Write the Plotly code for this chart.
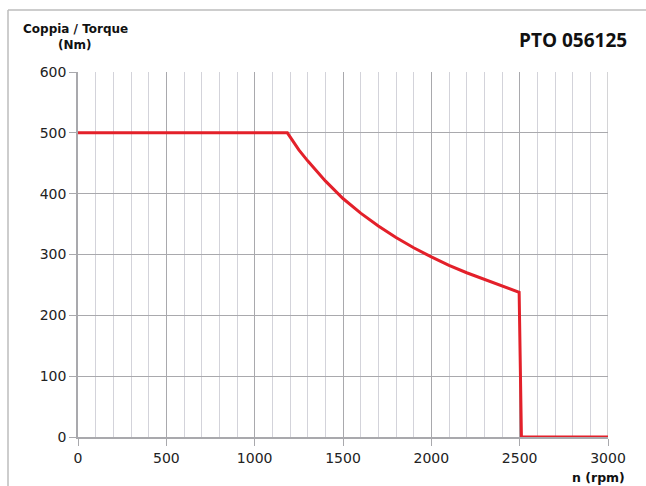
import plotly.graph_objects as go

# Data
rpm = [0, 1185, 1250, 1300, 1400, 1500, 1600, 1700, 1800, 1900, 2000,
       2100, 2200, 2300, 2400, 2497, 2510, 3000]
torque = [500, 500, 472, 454, 421, 392, 368, 347, 328, 311, 296,
          282, 270, 259, 248, 238, 0, 0]

x_ticks = [0, 500, 1000, 1500, 2000, 2500, 3000]
y_ticks = [0, 100, 200, 300, 400, 500, 600]

W, H = 646, 486
L, R, T, B = 78, 38, 72, 49
pw, ph = W - L - R, H - T - B


def px2paper_x(px):
    return (px - L) / pw


def py2paper_y(py):
    return (H - B - py) / ph


fig = go.Figure()
fig.add_trace(go.Scatter(
    x=rpm, y=torque, mode="lines",
    line=dict(color="#e3202a", width=3),
    hoverinfo="skip", showlegend=False, cliponaxis=False,
))

tick_font = dict(family="DejaVu Sans", size=14, color="#222222")

fig.update_layout(
    width=W, height=H,
    margin=dict(l=L, r=R, t=T, b=B, pad=0),
    paper_bgcolor="white", plot_bgcolor="white",
    showlegend=False,
    xaxis=dict(
        range=[0, 3000], tickvals=x_ticks, ticktext=[str(v) for v in x_ticks],
        showgrid=True, gridcolor="#a9a9ad", gridwidth=1,
        minor=dict(dtick=100, tick0=0, showgrid=True, gridcolor="#d3d3da", gridwidth=1, ticks=""),
        showline=True, linecolor="#a9a9ad", linewidth=1.5,
        ticks="outside", ticklen=7, tickcolor="#a9a9ad", tickwidth=1,
        tickfont=tick_font, zeroline=False, fixedrange=True,
    ),
    yaxis=dict(
        range=[0, 600], tickvals=y_ticks, ticktext=[str(v) for v in y_ticks],
        showgrid=True, gridcolor="#a9a9ad", gridwidth=1,
        showline=True, linecolor="#a9a9ad", linewidth=1.5,
        ticks="outside", ticklen=7, tickcolor="#a9a9ad", tickwidth=1,
        tickfont=tick_font, zeroline=False, fixedrange=True,
    ),
    shapes=[
        dict(type="line", xref="paper", yref="paper",
             x0=px2paper_x(8), x1=px2paper_x(660), y0=py2paper_y(10), y1=py2paper_y(10),
             line=dict(color="#bdbdbd", width=1.5)),
        dict(type="line", xref="paper", yref="paper",
             x0=px2paper_x(8), x1=px2paper_x(8), y0=py2paper_y(10), y1=py2paper_y(500),
             line=dict(color="#bdbdbd", width=1.5)),
        dict(type="line", xref="x", yref="paper", x0=3000, x1=3000, y0=0, y1=1,
             line=dict(color="#a9a9ad", width=1), layer="below"),
    ],
    annotations=[
        dict(text="<b>PTO 056125</b>", xref="paper", yref="paper",
             x=px2paper_x(629), y=py2paper_y(40), xanchor="right", yanchor="middle",
             showarrow=False, font=dict(family="Open Sans", size=19, color="#111111")),
        dict(text="<b>Coppia / Torque</b>", xref="paper", yref="paper",
             x=px2paper_x(75), y=py2paper_y(29), xanchor="center", yanchor="middle",
             showarrow=False, font=dict(family="DejaVu Sans", size=12, color="#111111")),
        dict(text="<b>(Nm)</b>", xref="paper", yref="paper",
             x=px2paper_x(75), y=py2paper_y(45), xanchor="center", yanchor="middle",
             showarrow=False, font=dict(family="DejaVu Sans", size=12, color="#111111")),
        dict(text="<b>n (rpm)</b>", xref="paper", yref="paper",
             x=px2paper_x(627), y=py2paper_y(477), xanchor="right", yanchor="middle",
             showarrow=False, font=dict(family="DejaVu Sans", size=12.5, color="#111111")),
    ],
)

fig.write_html("out.html", config={"displayModeBar": False},
               post_script="document.body.style.margin='0';document.body.style.overflow='hidden';")
